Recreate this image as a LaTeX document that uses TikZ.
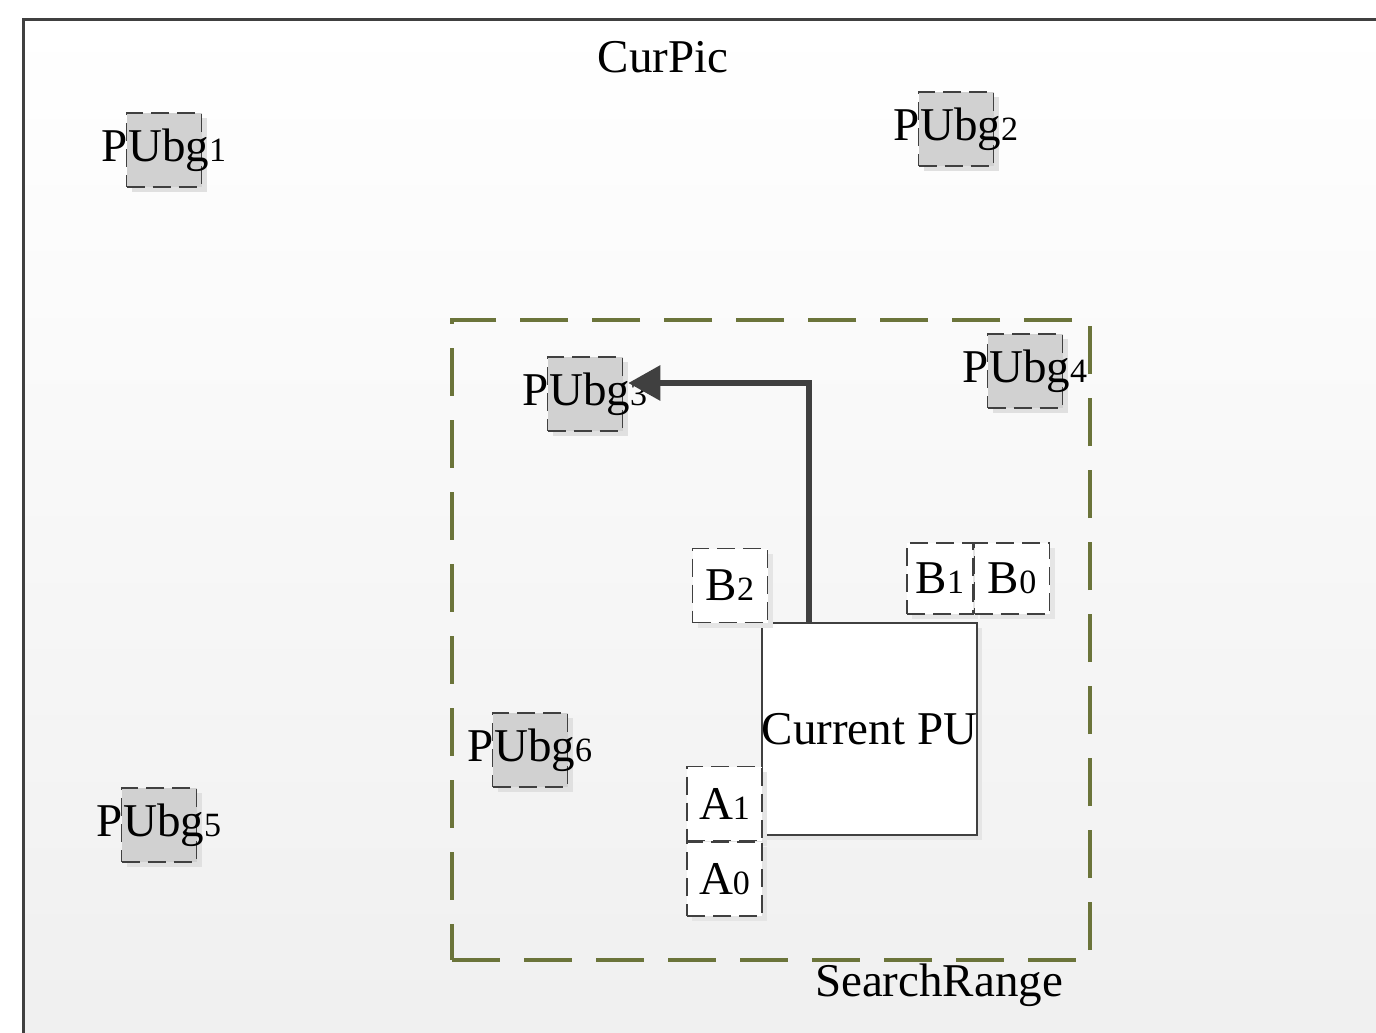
\documentclass[tikz,border=0pt]{standalone}
\usepackage{fontspec}
\setmainfont{Liberation Serif}
\usetikzlibrary{arrows.meta, positioning, calc, shadows}

\definecolor{framegray}{RGB}{64,64,64}
\definecolor{olivedash}{RGB}{107,116,58}
\newcommand{\idx}[1]{{\fontsize{17}{17}\selectfont #1}}

\begin{document}
\begin{tikzpicture}[
      x=0.5pt, y=-0.5pt,
      font=\fontsize{23.5}{26}\selectfont,
      frame/.style={draw=framegray, line width=1.5pt},
      bgpu/.style={rectangle, draw=black!75, thick, dash pattern=on 9pt off 4pt, fill=black!18,
        minimum width=37.5pt, minimum height=37pt, inner sep=0pt,
        drop shadow={shadow xshift=2.5pt, shadow yshift=-2.5pt, fill=black!12, opacity=1},
        label={center:PUbg\idx{#1}}},
      cand/.style={rectangle, draw=black!75, thick, dash pattern=on 9pt off 4pt, fill=white,
        minimum width=37.5pt, minimum height=37pt, inner sep=0pt,
        drop shadow={shadow xshift=2.5pt, shadow yshift=-2.5pt, fill=black!10, opacity=1}},
      curbox/.style={rectangle, draw=framegray, thick, fill=white, inner sep=0pt,
        minimum width=105.5pt, minimum height=106pt,
        drop shadow={shadow xshift=2.5pt, shadow yshift=-2.5pt, fill=black!10, opacity=1}},
      srbox/.style={rectangle, draw=olivedash, line width=2pt, dash pattern=on 24pt off 12pt,
        minimum width=319pt, minimum height=320pt, inner sep=0pt},
      mvarrow/.style={-{Triangle[length=16pt, width=17pt]}, draw=framegray, line width=3pt}
    ]
    \useasboundingbox (0,0) rectangle (1376,1033);
    \fill[white] (0,0) rectangle (1376,1033);
    \shade[top color=white, bottom color=black!6] (23,19) rectangle (1376,1033);
    \draw[frame] (1376,19) -- (23,19) -- (23,1033);

    \node (curpic) at (663,57) {CurPic};

    % search range
    \node[srbox] (srange) at (771,640) {};
    \node (srlabel) at (939,985) {SearchRange};

    % background PUs
    \node[bgpu=1] (bg1) at (164,150) {};
    \node[bgpu=2] (bg2) at (956,129) {};
    \node[bgpu=3] (bg3) at (585,394) {};
    \node[bgpu=4] (bg4) at (1025,371) {};
    \node[bgpu=5] (bg5) at (159,825) {};
    \node[bgpu=6] (bg6) at (530,750) {};

    % current PU and spatial candidates
    \node[curbox] (cur) at (869.5,729) {Current PU};
    \node[cand] (b2) at (730,585.5) {B\idx{2}};
    \node[cand, minimum width=33pt, minimum height=35.5pt] (b1) at (940,578.5) {B\idx{1}};
    \node[cand, minimum height=35.5pt, right=0pt of b1] (b0) {B\idx{0}};
    \node[cand] (a1) at (724.5,803.5) {A\idx{1}};
    \node[cand, below=0pt of a1] (a0) {A\idx{0}};

    \draw[mvarrow] ($(cur.north west)!0.22!(cur.north east)$) |- ([xshift=2.5pt, yshift=5.5pt]bg3.east);
  \end{tikzpicture}
\end{document}
